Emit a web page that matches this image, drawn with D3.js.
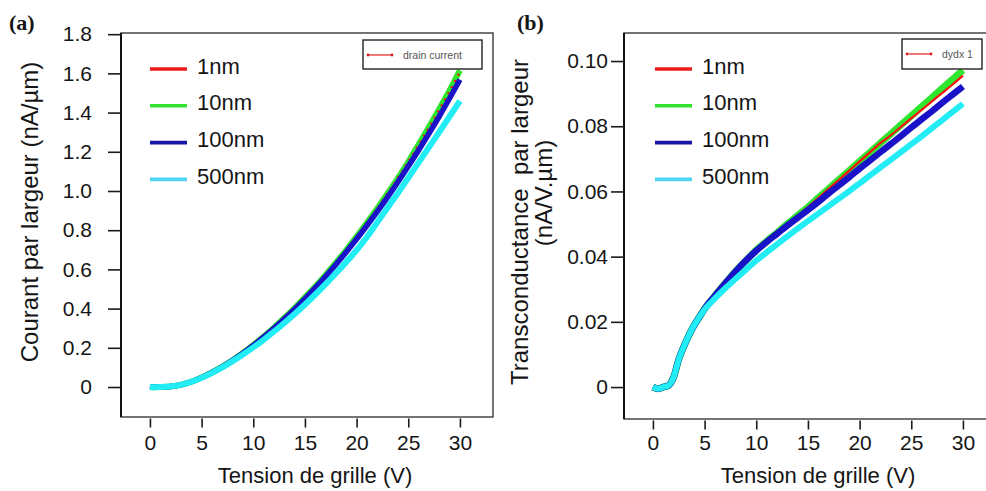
<!DOCTYPE html>
<html><head><meta charset="utf-8">
<script src="https://cdn.jsdelivr.net/npm/d3@7"></script>
<style>
body{margin:0;background:#fff}
svg{display:block;background:#fff}
text{fill:#151515}
</style>
</head><body>
<svg id="chart" width="986" height="491" font-family='"Liberation Sans",Arial,sans-serif'></svg>
<script>
// ---------------- DATA ----------------
const gateVoltage = [0,0.5,1,1.5,2,2.5,3,3.5,4,4.5,5,6,7,8,9,10,11,12,13,14,15,16,17,18,19,20,21,22,23,24,25,26,27,28,29,30];
const seriesNames = ["1nm","10nm","100nm","500nm"];

// (a) drain current per width (nA/µm)
const current1nm   = [0,-0.001,0,0.001,0.003,0.006,0.011,0.018,0.027,0.037,0.048,0.074,0.104,0.137,0.174,0.214,0.257,0.303,0.352,0.403,0.457,0.513,0.572,0.634,0.699,0.767,0.838,0.911,0.987,1.066,1.148,1.235,1.322,1.414,1.508,1.61];
const current10nm  = [0,-0.001,0,0.001,0.003,0.006,0.011,0.018,0.027,0.037,0.048,0.074,0.104,0.137,0.174,0.214,0.257,0.303,0.352,0.403,0.457,0.513,0.572,0.634,0.699,0.767,0.838,0.911,0.987,1.066,1.148,1.237,1.326,1.418,1.513,1.615];
const current100nm = [0,-0.001,0,0.001,0.003,0.006,0.011,0.018,0.027,0.037,0.048,0.074,0.103,0.136,0.172,0.212,0.254,0.299,0.347,0.397,0.45,0.506,0.564,0.625,0.689,0.755,0.824,0.895,0.969,1.046,1.126,1.208,1.293,1.381,1.473,1.568];
const current500nm = [0,-0.001,0,0.001,0.003,0.006,0.011,0.018,0.027,0.036,0.047,0.072,0.1,0.132,0.166,0.202,0.241,0.283,0.327,0.373,0.421,0.472,0.525,0.58,0.638,0.698,0.765,0.84,0.915,0.99,1.067,1.145,1.223,1.301,1.38,1.46];

// (b) transconductance per width (nA/V.µm)
const gm1nm   = [0,-0.0005,0,0.0005,0.003,0.0085,0.0125,0.016,0.019,0.0215,0.024,0.028,0.0318,0.0355,0.0388,0.042,0.0447,0.0473,0.05,0.0526,0.0552,0.058,0.0608,0.0636,0.0664,0.0692,0.072,0.0748,0.0772,0.0798,0.0824,0.085,0.0876,0.0902,0.0928,0.0955];
const gm10nm  = [0,-0.0005,0,0.0005,0.003,0.0085,0.0125,0.016,0.019,0.0215,0.024,0.028,0.0318,0.0355,0.0388,0.042,0.0447,0.0473,0.05,0.0526,0.0552,0.058,0.0608,0.0636,0.0664,0.0692,0.072,0.0748,0.0776,0.0804,0.0832,0.086,0.0888,0.0916,0.0944,0.0972];
const gm100nm = [0,-0.0005,0,0.0005,0.003,0.0085,0.0125,0.016,0.019,0.0215,0.024,0.028,0.0318,0.0355,0.0388,0.0418,0.0445,0.047,0.0495,0.0519,0.0543,0.0568,0.0594,0.0619,0.0644,0.067,0.0695,0.072,0.0745,0.077,0.0796,0.0821,0.0846,0.0872,0.0897,0.0922];
const gm500nm = [0,-0.0005,0,0.0005,0.003,0.0085,0.0125,0.016,0.019,0.0215,0.0238,0.0272,0.0303,0.0332,0.036,0.0388,0.0413,0.0438,0.0462,0.0486,0.0509,0.0532,0.0555,0.0578,0.0601,0.0625,0.0649,0.0673,0.0697,0.0721,0.0745,0.0769,0.0794,0.0819,0.0844,0.0869];

const xTickValues = [0,5,10,15,20,25,30];
const xTickLabels = ["0","5","10","15","20","25","30"];
const yTickValuesA = [0,0.2,0.4,0.6,0.8,1.0,1.2,1.4,1.6,1.8];
const yTickLabelsA = ["0","0.2","0.4","0.6","0.8","1.0","1.2","1.4","1.6","1.8"];
const yTickValuesB = [0,0.02,0.04,0.06,0.08,0.10];
const yTickLabelsB = ["0","0.02","0.04","0.06","0.08","0.10"];

// ---------------- STYLE ----------------
const curveColors  = {"1nm":"#ff1010","10nm":"#2ee62e","100nm":"#1a12c8","500nm":"#22ecf4"};
const legendColors = {"1nm":"#ee1c1c","10nm":"#2fe32f","100nm":"#1616a6","500nm":"#4fd5f3"};
const FONT = '"Liberation Sans",Arial,sans-serif';
const SERIF = '"Liberation Serif","Times New Roman",serif';

const svg = d3.select("#chart");

function drawPanel(cfg) {
  const g = svg.append("g");
  const x = d3.scaleLinear().domain([-2.8, 33.2]).range([cfg.left, cfg.right]);
  const y = d3.scaleLinear().domain(cfg.yDomain).range([cfg.bottom, cfg.top]);

  const clipId = "clip" + cfg.id;
  svg.append("clipPath").attr("id", clipId).append("rect")
    .attr("x", cfg.left).attr("y", cfg.top)
    .attr("width", cfg.right - cfg.left).attr("height", cfg.bottom - cfg.top);

  // curves
  const line = d3.line().x(d => x(d[0])).y(d => y(d[1])).curve(d3.curveMonotoneX);
  const cg = g.append("g").attr("clip-path", `url(#${clipId})`);
  cfg.order.forEach(name => {
    const vals = cfg.series[name];
    const pts = gateVoltage.map((v, i) => [v, vals[i]]);
    const st = cfg.styles[name];
    cg.append("path").datum(pts)
      .attr("d", line).attr("fill", "none")
      .attr("stroke", curveColors[name])
      .attr("stroke-width", st.w)
      .attr("stroke-linecap", "butt")
      .attr("stroke-linejoin", "round")
      .attr("stroke-dasharray", st.dash || null);
  });

  // frame
  g.append("rect").attr("x", cfg.left).attr("y", cfg.top)
    .attr("width", cfg.right - cfg.left).attr("height", cfg.bottom - cfg.top)
    .attr("fill", "none").attr("stroke", "#3a3a3a").attr("stroke-width", 1.4);
  g.append("line").attr("x1", cfg.left).attr("x2", cfg.left)
    .attr("y1", cfg.top).attr("y2", cfg.bottom)
    .attr("stroke", "#111").attr("stroke-width", 2);

  // y axis
  const yMinor = d3.range(cfg.yMinorStart, cfg.yMinorEnd + cfg.yMinorStep / 2, cfg.yMinorStep);
  const ya = g.append("g").attr("transform", `translate(${cfg.left},0)`);
  ya.call(d3.axisLeft(y).tickValues(yMinor).tickSize(7).tickFormat(""));
  ya.call(d3.axisLeft(y).tickValues(cfg.yTicks).tickSize(13).tickPadding(cfg.yPad)
    .tickFormat((d, i) => cfg.yLabels[i]));
  ya.attr("font-family", FONT).attr("font-size", 21);
  ya.selectAll(".domain").remove();
  ya.selectAll("line").attr("stroke", "#1a1a1a").attr("stroke-width", 1.6);
  ya.selectAll("text").attr("fill", "#151515");

  // x axis
  const xMinor = d3.range(-2.5, 32.6, 1.25);
  const xa = g.append("g").attr("transform", `translate(0,${cfg.bottom + 1.5})`);
  xa.call(d3.axisBottom(x).tickValues(xMinor).tickSize(5).tickFormat(""));
  xa.call(d3.axisBottom(x).tickValues(xTickValues).tickSize(9).tickFormat((d, i) => xTickLabels[i]));
  xa.attr("font-family", FONT).attr("font-size", 21);
  xa.selectAll(".domain").remove();
  xa.selectAll("line").attr("stroke", "#1a1a1a").attr("stroke-width", 1.6);
  xa.selectAll("text").attr("fill", "#151515")
    .attr("dy", null).attr("y", 450 - cfg.bottom - 1.5);

  // x label
  g.append("text").attr("x", cfg.xLabelX).attr("y", 483)
    .attr("text-anchor", "middle").attr("font-size", 22).text("Tension de grille (V)");

  // panel letter
  g.append("text").attr("x", cfg.letterX).attr("y", 30)
    .style("font-family", SERIF)
    .attr("font-weight", "bold").attr("font-size", 22).text(cfg.letter);

  // legend
  seriesNames.forEach((name, i) => {
    const ly = cfg.legendY + i * 36.8;
    g.append("line").attr("x1", cfg.legendX).attr("x2", cfg.legendX + 37)
      .attr("y1", ly).attr("y2", ly)
      .attr("stroke", legendColors[name]).attr("stroke-width", 3.6);
    g.append("text").attr("x", cfg.legendX + 47).attr("y", ly + 4.5)
      .attr("font-size", 22).text(name);
  });

  // small software legend box
  const b = cfg.box;
  g.append("rect").attr("x", b.x).attr("y", b.y).attr("width", b.w).attr("height", b.h)
    .attr("fill", "#fff").attr("stroke", "#222").attr("stroke-width", 1.4);
  g.append("line").attr("x1", b.x + 4).attr("x2", b.x + 30).attr("y1", b.y + 15).attr("y2", b.y + 15)
    .attr("stroke", "#e83030").attr("stroke-width", 1.3);
  [b.x + 5, b.x + 29].forEach(cx => g.append("circle").attr("cx", cx).attr("cy", b.y + 15).attr("r", 1.4).attr("fill", "#e02020"));
  g.append("text").attr("x", b.x + 40).attr("y", b.y + 18.5)
    .attr("font-size", 10.5).style("fill", "#555").text(b.text);

  return g;
}

const gA = drawPanel({
  id: "A", letter: "(a)", letterX: 9,
  left: 121, right: 493, top: 33, bottom: 417,
  yDomain: [-0.153, 1.806],
  yTicks: yTickValuesA, yLabels: yTickLabelsA, yPad: 16,
  yMinorStart: -0.15, yMinorEnd: 1.8, yMinorStep: 0.05,
  series: {"1nm": current1nm, "10nm": current10nm, "100nm": current100nm, "500nm": current500nm},
  order: ["10nm", "1nm", "100nm", "500nm"],
  styles: {"10nm": {w: 6}, "1nm": {w: 2.5, dash: "2,5"}, "100nm": {w: 5.5}, "500nm": {w: 6}},
  xLabelX: 315,
  legendX: 150, legendY: 69,
  box: {x: 363, y: 40, w: 119, h: 29, text: "drain current"}
});
gA.append("text").attr("transform", "translate(38,212) rotate(-90)")
  .attr("text-anchor", "middle").attr("font-size", 24).text("Courant par largeur (nA/µm)");

const gB = drawPanel({
  id: "B", letter: "(b)", letterX: 517,
  left: 624, right: 996, top: 33, bottom: 419,
  yDomain: [-0.0098, 0.1086],
  yTicks: yTickValuesB, yLabels: yTickLabelsB, yPad: 3,
  yMinorStart: -0.005, yMinorEnd: 0.105, yMinorStep: 0.005,
  series: {"1nm": gm1nm, "10nm": gm10nm, "100nm": gm100nm, "500nm": gm500nm},
  order: ["10nm", "1nm", "100nm", "500nm"],
  styles: {"10nm": {w: 7}, "1nm": {w: 2.2}, "100nm": {w: 6.5}, "500nm": {w: 6}},
  xLabelX: 818,
  legendX: 655, legendY: 69,
  box: {x: 902, y: 39, w: 80, h: 30, text: "dydx 1"}
});
gB.append("text").attr("transform", "translate(528,222) rotate(-90)")
  .attr("text-anchor", "middle").attr("font-size", 24)
  .style("white-space", "pre").text("Transconductance  par largeur");
gB.append("text").attr("transform", "translate(552,193) rotate(-90)")
  .attr("text-anchor", "middle").attr("font-size", 24).text("(nA/V.µm)");
</script>
</body></html>
